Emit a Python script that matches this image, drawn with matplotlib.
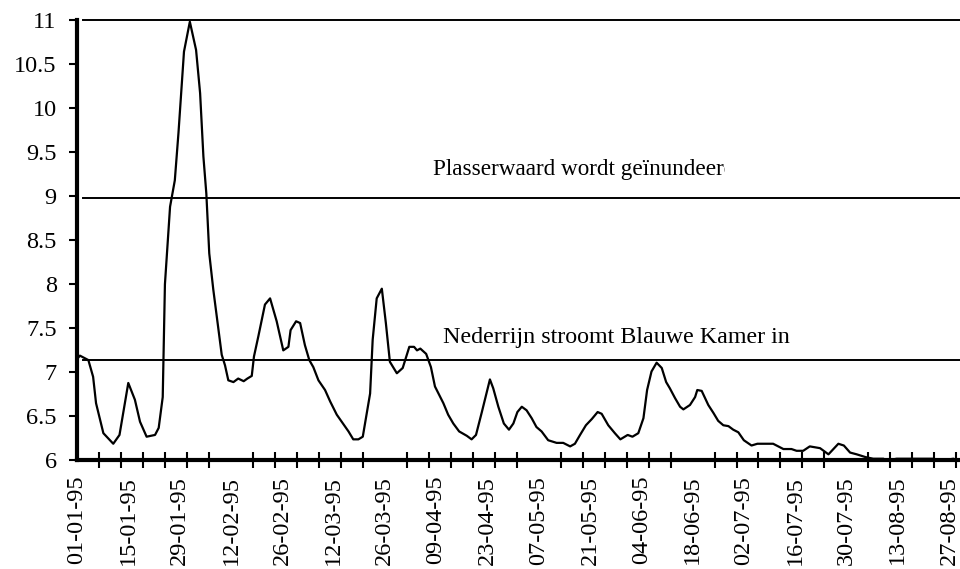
import numpy as np
import matplotlib.pyplot as plt
from matplotlib.transforms import Bbox, TransformedBbox

# dagen sinds 01-01-95 en waterstand (m)
dag = [0.0, 0.8, 3.1, 4.4, 5.2, 7.2, 9.9, 11.6, 14.0, 15.8, 17.2, 19.0, 21.3, 22.3,
       23.4, 24.0, 25.4, 26.7, 27.7, 29.2, 30.8, 32.5, 33.6, 34.5, 35.3, 36.1, 37.2,
       38.5, 39.5, 40.4, 41.3, 42.7, 44.0, 45.5, 46.5, 47.7, 48.3, 49.5, 51.3, 52.7,
       54.5, 56.3, 57.7, 58.3, 59.8, 60.9, 62.2, 63.4, 64.5, 65.9, 67.7, 69.1, 70.9,
       74.1, 75.4, 76.8, 78.0, 80.0, 80.7, 81.8, 83.2, 84.3, 85.4, 87.3, 88.9, 90.7,
       92.0, 92.8, 93.7, 95.3, 96.6, 97.7, 100.0, 101.3, 102.7, 104.3, 106.4, 107.7,
       108.9, 110.5, 112.7, 113.6, 115.0, 116.5, 117.9, 119.1, 120.2, 121.4, 122.7,
       124.1, 125.4, 126.8, 128.6, 130.9, 132.7, 134.6, 135.9, 137.3, 138.9, 140.5,
       142.1, 143.2, 145.0, 146.8, 148.3, 150.3, 151.6, 153.2, 154.6, 155.6, 156.8,
       158.2, 159.6, 160.8, 161.8, 163.2, 164.6, 165.5, 167.3, 168.7, 169.3, 170.5,
       172.3, 173.7, 175.0, 176.4, 177.8, 179.1, 180.5, 182.0, 184.1, 185.7, 190.0,
       192.8, 195.0, 196.4, 198.2, 200.0, 201.4, 202.8, 205.1, 207.8, 209.3, 211.0,
       212.8, 215.1, 217.3, 220.1, 221.0, 223.7, 233.7, 234.6, 236.0, 239.2, 240.5]
waterstand = [7.15, 7.19, 7.14, 6.95, 6.65, 6.31, 6.19, 6.29, 6.88, 6.69, 6.44, 6.27, 6.29, 6.37,
              6.72, 8.0, 8.88, 9.18, 9.72, 10.64, 10.98, 10.66, 10.17, 9.45, 9.03, 8.35, 7.94,
              7.52, 7.2, 7.08, 6.91, 6.89, 6.93, 6.9, 6.93, 6.96, 7.18, 7.41, 7.77, 7.84,
              7.58, 7.25, 7.29, 7.48, 7.58, 7.56, 7.31, 7.14, 7.06, 6.91, 6.8, 6.67, 6.52,
              6.33, 6.24, 6.24, 6.27, 6.76, 7.37, 7.84, 7.95, 7.56, 7.12, 6.99, 7.05, 7.29,
              7.29, 7.25, 7.27, 7.21, 7.06, 6.84, 6.65, 6.52, 6.42, 6.33, 6.28, 6.24,
              6.29, 6.55, 6.92, 6.82, 6.61, 6.42, 6.35, 6.42, 6.55, 6.61, 6.57,
              6.48, 6.38, 6.33, 6.23, 6.2, 6.2, 6.16, 6.19, 6.29, 6.4, 6.47,
              6.55, 6.53, 6.4, 6.31, 6.24, 6.29, 6.27, 6.31, 6.48, 6.8, 7.01,
              7.11, 7.05, 6.89, 6.82, 6.71, 6.61, 6.58, 6.63, 6.72, 6.8, 6.79,
              6.63, 6.54, 6.45, 6.4, 6.39, 6.35, 6.32, 6.23, 6.17, 6.19, 6.19,
              6.13, 6.13, 6.11, 6.11, 6.16, 6.15, 6.14, 6.07, 6.19, 6.17, 6.09,
              6.07, 6.04, 6.02, 6.02, 6.0, 6.02, 6.02, 6.0, 6.0, 6.02, 6.0]

label_dagen = [0, 14, 28, 42, 56, 70, 84, 98, 112, 126, 140, 154, 168, 182, 196, 210, 224, 238]
labels = ['01-01-95', '15-01-95', '29-01-95', '12-02-95', '26-02-95', '12-03-95',
          '26-03-95', '09-04-95', '23-04-95', '07-05-95', '21-05-95', '04-06-95',
          '18-06-95', '02-07-95', '16-07-95', '30-07-95', '13-08-95', '27-08-95']

niveaus = [11.0, 8.98, 7.14]

plt.rcParams['font.family'] = ['Liberation Serif', 'DejaVu Serif']

fig = plt.figure(figsize=(9.6, 5.69), dpi=100)
ax = fig.add_axes([0.0802, 0.1907, 0.9198, 0.7742])

for n in niveaus:
    ax.plot([1.7, 241], [n, n], color='black', lw=1.4, clip_on=False)
ax.plot(dag, waterstand, color='black', lw=1.6, clip_on=False, zorder=3)

ax.set_xlim(0, 241)
ax.set_ylim(6, 11)

for s in ['top', 'right']:
    ax.spines[s].set_visible(False)
for s in ['left', 'bottom']:
    ax.spines[s].set_linewidth(3)
    ax.spines[s].set_zorder(2)

ax.set_yticks(np.arange(6, 11.01, 0.5))
ax.set_yticklabels(['%g' % v for v in np.arange(6, 11.01, 0.5)])
ax.tick_params(axis='y', direction='out', length=6, width=1.5, labelsize=17.5, pad=8.6)

ax.set_xticks(label_dagen)
ax.set_xticklabels(labels, rotation=90)
ax.set_xticks(range(0, 241, 6), minor=True)
ax.tick_params(axis='x', which='major', length=0, labelsize=17.5, pad=11)
ax.tick_params(axis='x', which='minor', direction='inout', length=11.5, width=1.5)

t = ax.text(97.2, 9.24, 'Plasserwaard wordt geïnundeerd', fontsize=16.7, clip_on=True)
t.set_clip_box(TransformedBbox(Bbox([[90, 8.5], [176.8, 10]]), ax.transData))
ax.text(99.9, 7.33, 'Nederrijn stroomt Blauwe Kamer in', fontsize=17.3)

fig.savefig('out.png', dpi=100)
